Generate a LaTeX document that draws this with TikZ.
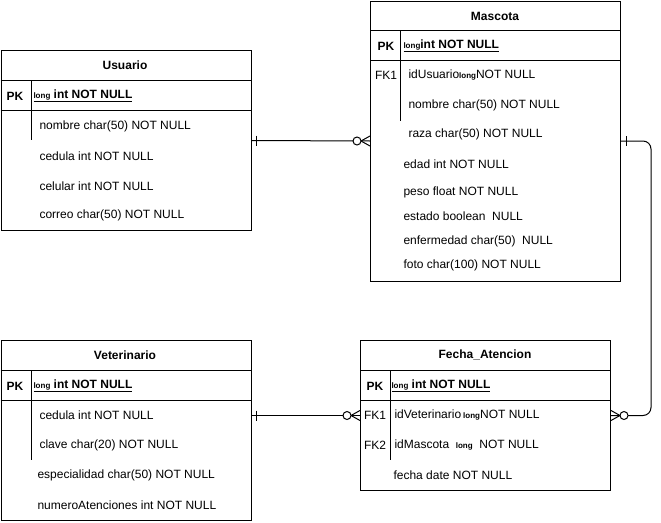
\documentclass[tikz,border=0pt]{standalone}
\usepackage{fontspec}
\setmainfont{Liberation Sans}
\newcommand{\tinylong}{{\fontsize{8}{9}\selectfont\bfseries long}}
\begin{document}
\begin{tikzpicture}[x=1pt,y=-1pt,line width=1pt,
  font=\fontsize{12}{14}\selectfont,
  tbl/.style={draw,line width=1pt,minimum width=250pt,inner sep=0pt,anchor=north west},
  ttl/.style={font=\fontsize{12}{14}\selectfont\bfseries,inner sep=0pt},
  fld/.style={anchor=west,inner sep=0pt},
  key/.style={inner sep=0pt},
  pkey/.style={inner sep=0pt,font=\fontsize{12}{14}\selectfont\bfseries},
  zmany/.pic={\draw (0,-5) -- (-9,0) -- (0,5); \draw[fill=white] (-13,0) circle[radius=4];},
  onebar/.pic={\draw (5,-5) -- (5,5);}
]
\useasboundingbox (0,0) rectangle (661,522);

% ---------- Usuario ----------
\node[tbl,minimum height=180pt] (U) at (0.5,50) {};
\node[ttl] (Ut) at (125,65) {Usuario};
\draw ([yshift=-30pt]U.north west) -- ([yshift=-30pt]U.north east);
\draw ([yshift=-60pt]U.north west) -- ([yshift=-60pt]U.north east);
\draw ([shift={(30.5pt,-30pt)}]U.north west) -- ([shift={(30.5pt,-90pt)}]U.north west);
\node[pkey] (Upk) at (15,96) {PK};
\node[fld] (Upkf) at (33,96) {\underline{\tinylong\ \bfseries int NOT NULL}};
\node[fld] (U1) at (39,126) {nombre char(50) NOT NULL};
\node[fld] (U2) at (39,156) {cedula int NOT NULL};
\node[fld] (U3) at (39,186) {celular int NOT NULL};
\node[fld] (U4) at (39,215) {correo char(50) NOT NULL};

% ---------- Mascota ----------
\node[tbl,minimum height=280pt] (M) at (370,0.5) {};
\node[ttl] (Mt) at (495,16) {Mascota};
\draw ([yshift=-30pt]M.north west) -- ([yshift=-30pt]M.north east);
\draw ([yshift=-60pt]M.north west) -- ([yshift=-60pt]M.north east);
\draw ([shift={(30pt,-30pt)}]M.north west) -- ([shift={(30pt,-120pt)}]M.north west);
\node[pkey] (Mpk) at (386,46) {PK};
\node[fld] (Mpkf) at (403,46) {\underline{\tinylong\bfseries int NOT NULL}};
\node[key] (Mfk) at (386,75) {FK1};
\node[fld] (M1) at (408,75) {idUsuario\tinylong NOT NULL};
\node[fld] (M2) at (408,105) {nombre char(50) NOT NULL};
\node[fld] (M3) at (408,134) {raza char(50) NOT NULL};
\node[fld] (M4) at (403,164) {edad int NOT NULL};
\node[fld] (M5) at (403,192) {peso float NOT NULL};
\node[fld] (M6) at (403,216) {estado boolean\ \ NULL};
\node[fld] (M7) at (403,241) {enfermedad char(50)\ \ NULL};
\node[fld] (M8) at (403,265) {foto char(100) NOT NULL};

% ---------- Veterinario ----------
\node[tbl,minimum height=180pt] (V) at (0.5,340) {};
\node[ttl] (Vt) at (125,355) {Veterinario};
\draw ([yshift=-30pt]V.north west) -- ([yshift=-30pt]V.north east);
\draw ([yshift=-60pt]V.north west) -- ([yshift=-60pt]V.north east);
\draw ([shift={(30.5pt,-30pt)}]V.north west) -- ([shift={(30.5pt,-120pt)}]V.north west);
\node[pkey] (Vpk) at (15,386) {PK};
\node[fld] (Vpkf) at (33,386) {\underline{\tinylong\ \bfseries int NOT NULL}};
\node[fld] (V1) at (39,415) {cedula int NOT NULL};
\node[fld] (V2) at (39,445) {clave char(20) NOT NULL};
\node[fld] (V3) at (37,475) {especialidad char(50) NOT NULL};
\node[fld] (V4) at (37,505) {numeroAtenciones int NOT NULL};

% ---------- Fecha_Atencion ----------
\node[tbl,minimum height=150pt] (F) at (360,340) {};
\node[ttl] (Ft) at (485,355) {Fecha\_Atencion};
\draw ([yshift=-30pt]F.north west) -- ([yshift=-30pt]F.north east);
\draw ([yshift=-60pt]F.north west) -- ([yshift=-60pt]F.north east);
\draw ([shift={(30pt,-30pt)}]F.north west) -- ([shift={(30pt,-120pt)}]F.north west);
\node[pkey] (Fpk) at (375,386) {PK};
\node[fld] (Fpkf) at (391,386) {\underline{\tinylong\ \bfseries int NOT NULL}};
\node[key] (Ffk1) at (375,415) {FK1};
\node[fld] (F1) at (394,415) {idVeterinario\,\tinylong NOT NULL};
\node[key] (Ffk2) at (375,445) {FK2};
\node[fld] (F2) at (394,445) {idMascota\ \ \tinylong\ \ NOT NULL};
\node[fld] (F3) at (393,475) {fecha date NOT NULL};

% ---------- Connectors ----------
\draw (U.east) -- (M.west);
\pic at (U.east) {onebar};
\pic at (M.west) {zmany};

\draw (V.east |- F.west) -- (F.west);
\pic at (V.east |- F.west) {onebar};
\pic at (F.west) {zmany};

\draw[rounded corners=8pt] (M.east) -- ++(30,0) |- (F.east);
\pic at (M.east) {onebar};
\pic[rotate=180] at (F.east) {zmany};
\end{tikzpicture}
\end{document}
